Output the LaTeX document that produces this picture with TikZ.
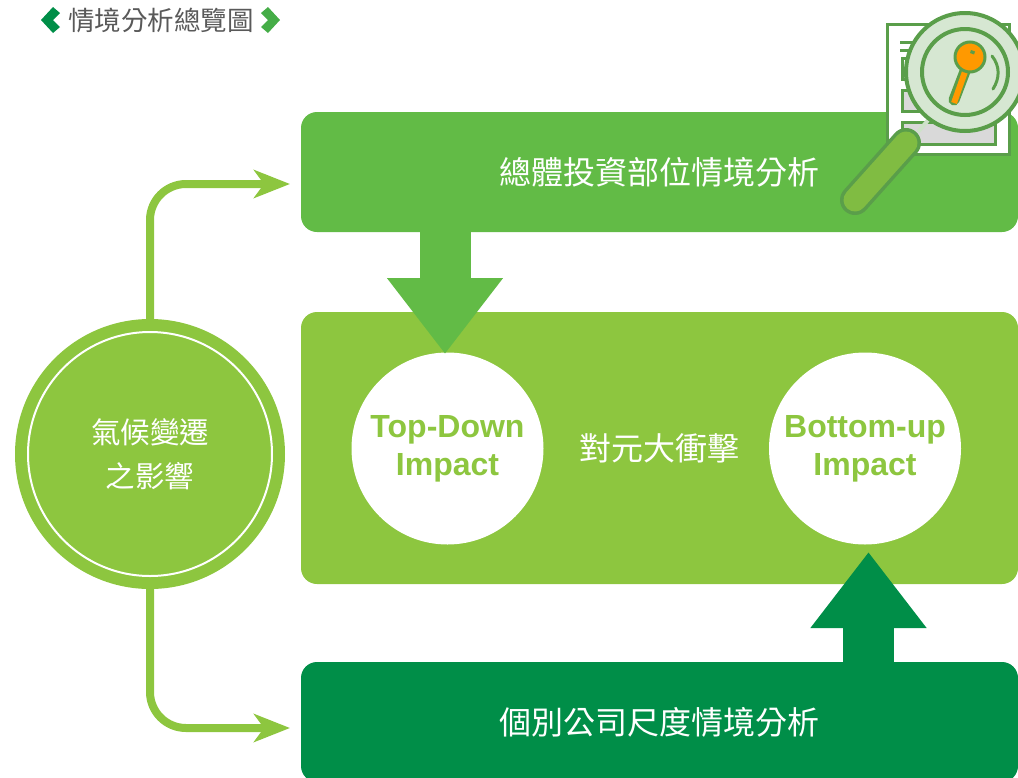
\documentclass[tikz,border=0pt]{standalone}
\usepackage{xcolor}
\usepackage{fontspec}
\setmainfont{Liberation Sans}
\newfontfamily\cjk{Noto Sans CJK TC}
\usetikzlibrary{calc, positioning, arrows.meta}
\definecolor{leaf}{HTML}{62BB46}
\definecolor{lime}{HTML}{8DC63F}
\definecolor{forest}{HTML}{008E48}
\definecolor{iconline}{HTML}{5A9E4A}

\begin{document}
\begin{tikzpicture}[x=1pt,y=-1pt,
box/.style={rectangle,rounded corners=16pt,minimum width=717pt,outer sep=0pt,inner sep=0pt,text=white,font=\cjk\fontsize{32}{38}\selectfont},
impact/.style={circle,fill=white,minimum size=192pt,inner sep=0pt,align=center,text=lime,font=\bfseries\fontsize{32}{38}\selectfont},
flowline/.style={draw=lime,line width=8pt,rounded corners=36pt,-{Stealth[length=36pt,width=28pt,inset=10pt]}},
blockarrow/.style={line width=51pt,-{Triangle[length=76pt,width=111pt]}},
chevron/.style={fill=#1}]
\clip (0,0) rectangle (1018,777);

\node[box,fill=leaf,minimum height=120pt] (top box) at (659.5,172) {總體投資部位情境分析};
\node[box,fill=lime,minimum height=272pt,below=80pt of top box] (mid box) {對元大衝擊};
\node[box,fill=forest,minimum height=120pt,below=78pt of mid box] (low box) {個別公司尺度情境分析};

\node[impact] (top down) at (447.5,448.5) {Top-Down\\Impact};
\node[impact] (bottom up) at (865,448.5) {Bottom-up\\Impact};

\coordinate (a) at (445,232);
\coordinate (b) at (445,354);
\coordinate (c) at (868.5,662);
\coordinate (d) at (868.5,552);
\draw[blockarrow,leaf] (a) -- (b);
\draw[blockarrow,forest] (c) -- (d);

\node[circle,fill=lime,minimum size=270pt,inner sep=0pt] (ring) at (150,454) {};
\node[circle,draw=white,line width=2pt,minimum size=244pt,inner sep=0pt,align=center,text=white,font=\cjk\fontsize{29.5}{44}\selectfont] (ring text) at (ring.center) {氣候變遷\\之影響};

\coordinate (top in) at (290,184);
\coordinate (low in) at (290,728);
\draw[flowline] (ring.north) |- (top in);
\draw[flowline] (ring.south) |- (low in);

% heading
\node[text=black!65,font=\cjk\fontsize{26.5}{30}\selectfont,inner sep=0pt] (heading) at (161,20) {情境分析總覽圖};
\fill[chevron=forest] (41,20) -- (53,7) -- (60,13) -- (53,20) -- (60,27) -- (53,33) -- cycle;
\fill[chevron=leaf!70!forest] (280,20) -- (268,7) -- (261,13) -- (268,20) -- (261,27) -- (268,33) -- cycle;

% magnifier
\draw[draw=iconline,fill=white,line width=3pt] (887,24) rectangle (1009,154);
\draw[iconline,line width=3pt] (900,42) -- (925,42) (900,50) -- (925,50);
\draw[iconline,fill=white,line width=3pt] (902,58) rectangle (930,79);
\draw[iconline,fill=black!15,line width=3pt] (902,90) rectangle (930,111);
\draw[iconline,fill=black!15,line width=3pt] (902,122) rectangle (995,144);
\draw[white!70!iconline,line width=4pt] (918,132) -- (935,112);
\draw[iconline,line width=30pt,line cap=round] (855,200) -- (906,143);
\draw[lime!75!iconline,line width=23pt,line cap=round] (855,200) -- (906,143);
\draw[iconline,fill=iconline!25!white,line width=4pt] (965,72) circle[radius=59];
\draw[iconline,line width=4pt] (965,72) circle[radius=43];
\draw[iconline,line width=11pt,line cap=round] (967,66) -- (954,100);
\draw[orange!80!yellow,line width=6pt] (967,66) -- (954,103);
\draw[iconline,fill=orange!80!yellow,line width=3pt] (970,57) circle[radius=15];
\fill[iconline] (971,50) -- (975,51.5) -- (974,54.5) -- (970,53) -- cycle;
\draw[iconline,line width=3pt,line cap=round] (992,56) .. controls (1000,66) and (1000,78) .. (993,89);
\end{tikzpicture}
\end{document}
